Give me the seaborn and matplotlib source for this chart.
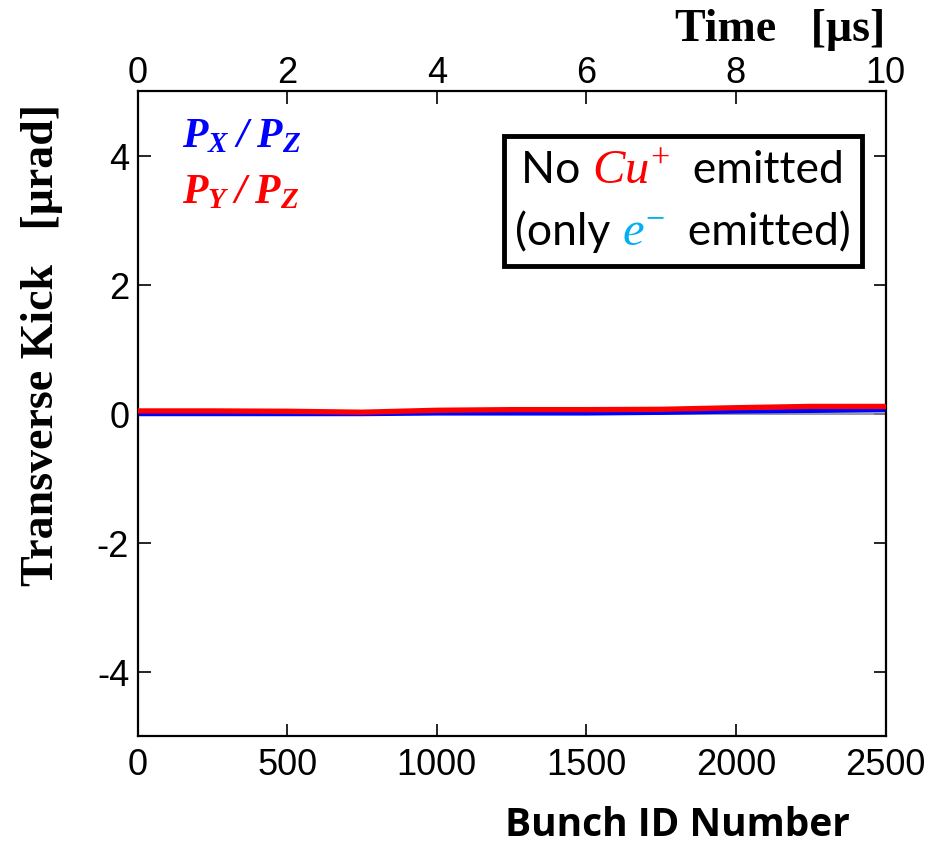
import numpy as np
import pandas as pd
import matplotlib
matplotlib.use("Agg")
import matplotlib.pyplot as plt
import seaborn as sns
from matplotlib.offsetbox import TextArea, HPacker, VPacker, AnchoredOffsetbox

# ---- data ----
bunch_id = [0, 250, 500, 750, 1000, 1250, 1500, 1750, 2000, 2250, 2500]
kick_px = [-0.01, -0.01, -0.01, -0.01, 0.0, 0.0, 0.0, 0.01, 0.03, 0.04, 0.05]
kick_py = [0.04, 0.04, 0.035, 0.02, 0.05, 0.06, 0.06, 0.065, 0.09, 0.11, 0.11]
x_ticks = [0, 500, 1000, 1500, 2000, 2500]
y_ticks = [-4, -2, 0, 2, 4]
time_ticks = [0, 2, 4, 6, 8, 10]

sns.set_theme(style="white")
plt.rcParams["font.family"] = ["Liberation Sans", "DejaVu Sans"]
plt.rcParams["text.color"] = "black"
plt.rcParams["axes.labelcolor"] = "black"
plt.rcParams["xtick.color"] = "black"
plt.rcParams["ytick.color"] = "black"
plt.rcParams["mathtext.fontset"] = "custom"
plt.rcParams["mathtext.rm"] = "Liberation Serif"
plt.rcParams["mathtext.it"] = "Liberation Serif:italic"
plt.rcParams["mathtext.bf"] = "Liberation Serif:bold:italic"

fig = plt.figure(figsize=(9.4, 8.45), dpi=100)
ax = fig.add_axes([137.5 / 940, 1 - 737 / 845, (885.5 - 137.5) / 940, (737 - 92) / 845])

df = pd.DataFrame({"bunch": bunch_id, "px": kick_px, "py": kick_py})
ax.axhline(0, color="#888888", lw=1.2, zorder=1)
sns.lineplot(data=df, x="bunch", y="px", ax=ax, color="#0000ff", lw=3.0, zorder=2)
sns.lineplot(data=df, x="bunch", y="py", ax=ax, color="#ff0000", lw=3.8, zorder=3)

ax.set_xlim(0, 2500)
ax.set_ylim(-5, 5)
ax.set_xticks(x_ticks)
ax.set_yticks(y_ticks)
ax.set_yticklabels([str(v) for v in y_ticks])
ax.set_xlabel("")
ax.set_ylabel("")
ax.tick_params(axis="both", which="both", direction="in", length=9, width=1.2,
               labelsize=26, colors="black", top=False, right=True, left=True, bottom=True)
ax.tick_params(axis="x", pad=8)
ax.tick_params(axis="y", pad=6)
for s in ax.spines.values():
    s.set_color("black")
    s.set_linewidth(1.6)

sec = ax.secondary_xaxis("top", functions=(lambda x: x / 250.0, lambda t: t * 250.0))
sec.set_xticks(time_ticks)
sec.tick_params(direction="in", length=9, width=1.2, labelsize=26, pad=1, colors="black")

fig.text(885 / 940, 1 - 41 / 845, "Time   [μs]", ha="right", va="baseline",
         fontsize=33, fontweight="bold", family="Liberation Serif")
fig.text(42 / 940, 1 - 345 / 845, "Transverse Kick   [μrad]", rotation=90,
         ha="center", va="center", fontsize=33, fontweight="bold", family="Liberation Serif")
fig.text(850 / 940, 1 - 826 / 845, "Bunch ID Number", ha="right", va="center",
         fontsize=28, fontweight="bold", family="Open Sans")

# series labels
ax.text(182 / 940, 1 - 136 / 845, r"$\mathbf{P_X\;/\;P_Z}$", transform=fig.transFigure,
        color="#0000ff", fontsize=30, ha="left", va="center")
ax.text(182 / 940, 1 - 192 / 845, r"$\mathbf{P_Y\;/\;P_Z}$", transform=fig.transFigure,
        color="#ff0000", fontsize=30, ha="left", va="center")

# annotation box
tp = dict(fontsize=32, family="Lato", color="black")
row1 = HPacker(children=[TextArea("No ", textprops=tp),
                         TextArea(r"$Cu^{+}$", textprops=dict(fontsize=35, color="#ff0000")),
                         TextArea("  emitted", textprops=tp)], align="baseline", pad=0, sep=0)
row2 = HPacker(children=[TextArea("(only ", textprops=tp),
                         TextArea(r"$e^{-}$", textprops=dict(fontsize=35, color="#00b0f0")),
                         TextArea("  emitted)", textprops=tp)], align="baseline", pad=0, sep=0)
box = VPacker(children=[row1, row2], align="center", pad=0, sep=12)
anch = AnchoredOffsetbox(loc="upper right", child=box, pad=0.75, borderpad=0,
                         frameon=True, bbox_to_anchor=(862 / 940, 1 - 137 / 845),
                         bbox_transform=fig.transFigure)
anch.patch.set_linewidth(3.5)
anch.patch.set_edgecolor("black")
anch.patch.set_boxstyle("square", pad=0)
ax.add_artist(anch)

fig.savefig("out.png", dpi=100)
